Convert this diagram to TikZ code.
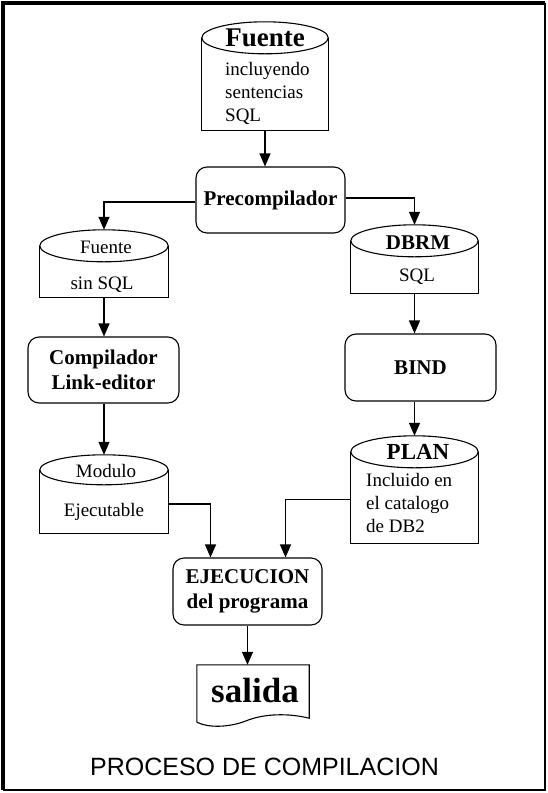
\documentclass[tikz,border=0pt]{standalone}
\usepackage{fontspec}
\setmainfont{Liberation Serif}
\newfontfamily\titlefont{Liberation Sans}
\usetikzlibrary{arrows.meta,calc}
\tikzset{
  shp/.style={line width=1.1pt},
  cylnode/.style={rectangle,draw=none,inner sep=0pt},
  procbox/.style={rectangle,draw,line width=1.1pt,rounded corners=11pt,inner sep=0pt,align=center,
     font=\fontsize{21}{25}\selectfont\bfseries},
  conn/.style={line width=1.3pt,-{Triangle[width=11pt,length=13pt]}},
  plain/.style={line width=1.3pt},
  ntxt/.style={inner sep=0pt,font=\fontsize{19}{23}\selectfont},
  btxt/.style={inner sep=0pt,font=\fontsize{21}{25}\selectfont\bfseries},
}
\newcommand\mycyl[2]{% name, ellipse half height
  \draw[shp] ([yshift=-#2]#1.north west) -- (#1.south west) -- (#1.south east) -- ([yshift=-#2]#1.north east);
  \draw[shp,fill=white] let \p1=(#1.north west), \p2=(#1.north east) in
     ([yshift=-#2]#1.north) ellipse [x radius={(\x2-\x1)/2}, y radius=#2];
}
\begin{document}
\begin{tikzpicture}[x=1pt,y=-1pt]
\useasboundingbox (0,0) rectangle (547,793);
% frame
\draw[line width=2pt] (545,3) -- (545,790) -- (3,790);
\draw[line width=4pt] (3,790) -- (3,3) -- (545,3);

% cylinders
\node[cylnode,minimum width=126pt,minimum height=108pt] (src) at (265,76) {};
\mycyl{src}{16pt}
\node[btxt,font=\fontsize{27}{30}\selectfont\bfseries] (srct) at (265,38) {Fuente};
\node[ntxt,align=left,anchor=north west] (srcb) at (225,62) {incluyendo\\sentencias\\SQL};

\node[cylnode,minimum width=128pt,minimum height=67pt] (fsin) at (104,263.5) {};
\mycyl{fsin}{16pt}
\node[ntxt] (fsint) at (106,247) {Fuente};
\node[ntxt] (fsinb) at (102,285) {sin SQL};

\node[cylnode,minimum width=127pt,minimum height=68pt] (dbrm) at (414.5,259) {};
\mycyl{dbrm}{16pt}
\node[btxt] (dbrmt) at (418,243) {DBRM};
\node[ntxt] (dbrmb) at (417,277) {SQL};

\node[cylnode,minimum width=128pt,minimum height=78pt] (mod) at (104,494) {};
\mycyl{mod}{15pt}
\node[ntxt] (modt) at (106,471) {Modulo};
\node[ntxt] (modb) at (104,512) {Ejecutable};

\node[cylnode,minimum width=127pt,minimum height=107pt] (plan) at (414.5,489.5) {};
\mycyl{plan}{16pt}
\node[btxt,font=\fontsize{23}{26}\selectfont\bfseries] (plant) at (418,452) {PLAN};
\node[ntxt,align=left,anchor=north west] (planb) at (366,473) {Incluido en\\el catalogo\\de DB2};

% process boxes
\node[procbox,minimum width=149pt,minimum height=66pt] (pre) at (270.5,200) {Precompilador};
\node[procbox,minimum width=151pt,minimum height=66pt] (comp) at (103.5,370) {Compilador\\Link-editor};
\node[procbox,minimum width=151pt,minimum height=67pt] (bind) at (420.5,367.5) {BIND};
\node[procbox,minimum width=149pt,minimum height=67pt] (ejec) at (247.5,591.5) {EJECUCION\\del programa};

% salida document
\node[rectangle,draw=none,minimum width=112pt,minimum height=57pt,inner sep=0pt] (sal) at (253,693.5) {};
\draw[shp] (sal.south west) -- (sal.north west) -- (sal.north east) -- ([yshift=4pt]sal.south east)
  .. controls ([xshift=-20pt,yshift=9pt]sal.south east) and ([xshift=-45pt,yshift=9pt]sal.south east) .. ([xshift=-64pt,yshift=1pt]sal.south east)
  .. controls ([xshift=-80pt,yshift=-5pt]sal.south east) and ([xshift=-100pt,yshift=-6pt]sal.south east) .. (sal.south west);
\node[btxt,font=\fontsize{35}{38}\selectfont\bfseries] (salt) at (255,691) {salida};

% title
\node[inner sep=0pt,font=\titlefont\fontsize{25}{28}\selectfont] (title) at (264.5,767) {PROCESO DE COMPILACION};

% connectors
\draw[conn] (src.south) -- (src.south |- pre.north);
\draw[conn] ([yshift=-2pt]pre.west) -| (fsin.north);
\draw[conn] ([yshift=2pt]pre.east) -| (dbrm.north);
\draw[conn] (fsin.south) -- (fsin.south |- comp.north);
\draw[conn] (dbrm.south) -- (dbrm.south |- bind.north);
\draw[conn] (comp.south -| mod.north) -- (mod.north);
\draw[conn] (bind.south -| plan.north) -- (plan.north);
\draw[conn] ([yshift=-10pt]mod.east) -| ([xshift=-37pt]ejec.north);
\draw[conn] ([yshift=-10pt]plan.west) -| ([xshift=38pt]ejec.north);
\draw[conn] (ejec.south) -- (ejec.south |- sal.north);
\end{tikzpicture}
\end{document}
